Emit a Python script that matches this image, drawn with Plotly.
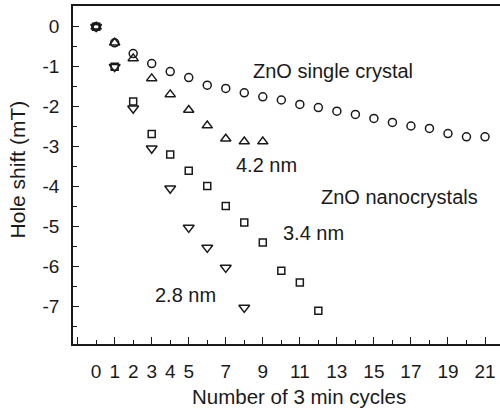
import plotly.graph_objects as go

# ---- data ----
cycles_single = list(range(0, 22))
shift_single = [0, -0.4, -0.67, -0.92, -1.12, -1.27, -1.46, -1.54, -1.65, -1.75, -1.83,
                -1.94, -2.02, -2.11, -2.19, -2.29, -2.39, -2.48, -2.54, -2.67, -2.75, -2.75]

cycles_42 = list(range(0, 10))
shift_42 = [0, -0.4, -0.79, -1.29, -1.69, -2.08, -2.47, -2.8, -2.87, -2.87]

cycles_34 = list(range(0, 13))
shift_34 = [0, -1.0, -1.87, -2.68, -3.19, -3.6, -3.98, -4.48, -4.89, -5.39, -6.1, -6.39, -7.1]

cycles_28 = list(range(0, 9))
shift_28 = [0, -1.0, -2.04, -3.04, -4.04, -5.02, -5.52, -6.02, -7.02]

x_label_vals = [0, 1, 2, 3, 4, 5, 7, 9, 11, 13, 15, 17, 19, 21]
x_major_ticks = [-1, 1, 3, 5, 7, 9, 11, 13, 15, 17, 19, 21]
y_tick_vals = [0, -1, -2, -3, -4, -5, -6, -7]

FONT = "Liberation Sans, Arial, sans-serif"
INK = "#1a1a1a"
X_RANGE = [-1.25, 21.81]
Y_RANGE = [-7.93, 0.52]

fig = go.Figure()

def add_series(x, y, symbol, size):
    fig.add_trace(go.Scatter(
        x=x, y=y, mode="markers",
        marker=dict(symbol=symbol, size=size, color=INK,
                    line=dict(color=INK, width=1.5)),
        showlegend=False, hoverinfo="x+y"))

add_series(cycles_single, shift_single, "circle-open", 8)
add_series(cycles_42, shift_42, "triangle-up-open", 9)
add_series(cycles_34, shift_34, "square-open", 7)
add_series(cycles_28, shift_28, "triangle-down-open", 9.5)

# invisible trace to carry the label axis
fig.add_trace(go.Scatter(x=[X_RANGE[0]], y=[Y_RANGE[0]], xaxis="x2", mode="markers",
                         marker=dict(opacity=0), showlegend=False, hoverinfo="skip"))

fig.update_layout(
    width=500, height=410,
    margin=dict(l=73, r=0, t=6, b=66),
    paper_bgcolor="white", plot_bgcolor="white",
    font=dict(family=FONT, color=INK, size=19),
    xaxis=dict(range=X_RANGE, showgrid=False, zeroline=False, automargin=False,
               showline=True, linecolor=INK, linewidth=1.5, mirror=True,
               tickmode="array", tickvals=x_major_ticks, ticks="inside",
               ticklen=7, tickwidth=1.2, tickcolor=INK, showticklabels=False,
               minor=dict(tickmode="linear", tick0=0, dtick=1, ticks="inside",
                          ticklen=4, tickwidth=1.2, tickcolor=INK)),
    xaxis2=dict(range=X_RANGE, overlaying="x", side="bottom", anchor="y",
                showgrid=False, zeroline=False, showline=False, automargin=False,
                tickmode="array", tickvals=x_label_vals,
                ticktext=[str(v) for v in x_label_vals],
                ticks="", ticklabelstandoff=14,
                tickfont=dict(family=FONT, size=19, color=INK)),
    yaxis=dict(range=Y_RANGE, showgrid=False, zeroline=False, automargin=False,
               showline=True, linecolor=INK, linewidth=1.5,
               tickmode="array", tickvals=y_tick_vals,
               ticktext=[str(v) for v in y_tick_vals],
               ticks="inside", ticklen=6, tickwidth=1.2, tickcolor=INK,
               ticklabelstandoff=8,
               tickfont=dict(family=FONT, size=19, color=INK),
               minor=dict(tickmode="linear", tick0=0.5, dtick=1, ticks="inside",
                          ticklen=4, tickwidth=1.2, tickcolor=INK)),
)

def label(text, x, y):
    fig.add_annotation(text=text, x=x, y=y, xref="x", yref="y",
                       xanchor="left", yanchor="middle", showarrow=False,
                       font=dict(family=FONT, size=20, color=INK))

label("ZnO single crystal", 8.38, -1.11)
label("4.2 nm", 7.45, -3.46)
label("ZnO nanocrystals", 12.05, -4.25)
label("3.4 nm", 10.0, -5.15)
label("2.8 nm", 3.05, -6.71)

fig.add_annotation(text="Number of 3 min cycles", x=0.529, y=-0.154,
                   xref="paper", yref="paper", xanchor="center", yanchor="middle",
                   showarrow=False, font=dict(family=FONT, size=20.5, color=INK))
fig.add_annotation(text="Hole shift (mT)", x=-0.13, y=0.518, textangle=-90,
                   xref="paper", yref="paper", xanchor="center", yanchor="middle",
                   showarrow=False, font=dict(family=FONT, size=21, color=INK))

fig.write_html("out.html", config={"displayModeBar": False},
               post_script="document.body.style.margin='0';document.body.style.overflow='hidden';")
